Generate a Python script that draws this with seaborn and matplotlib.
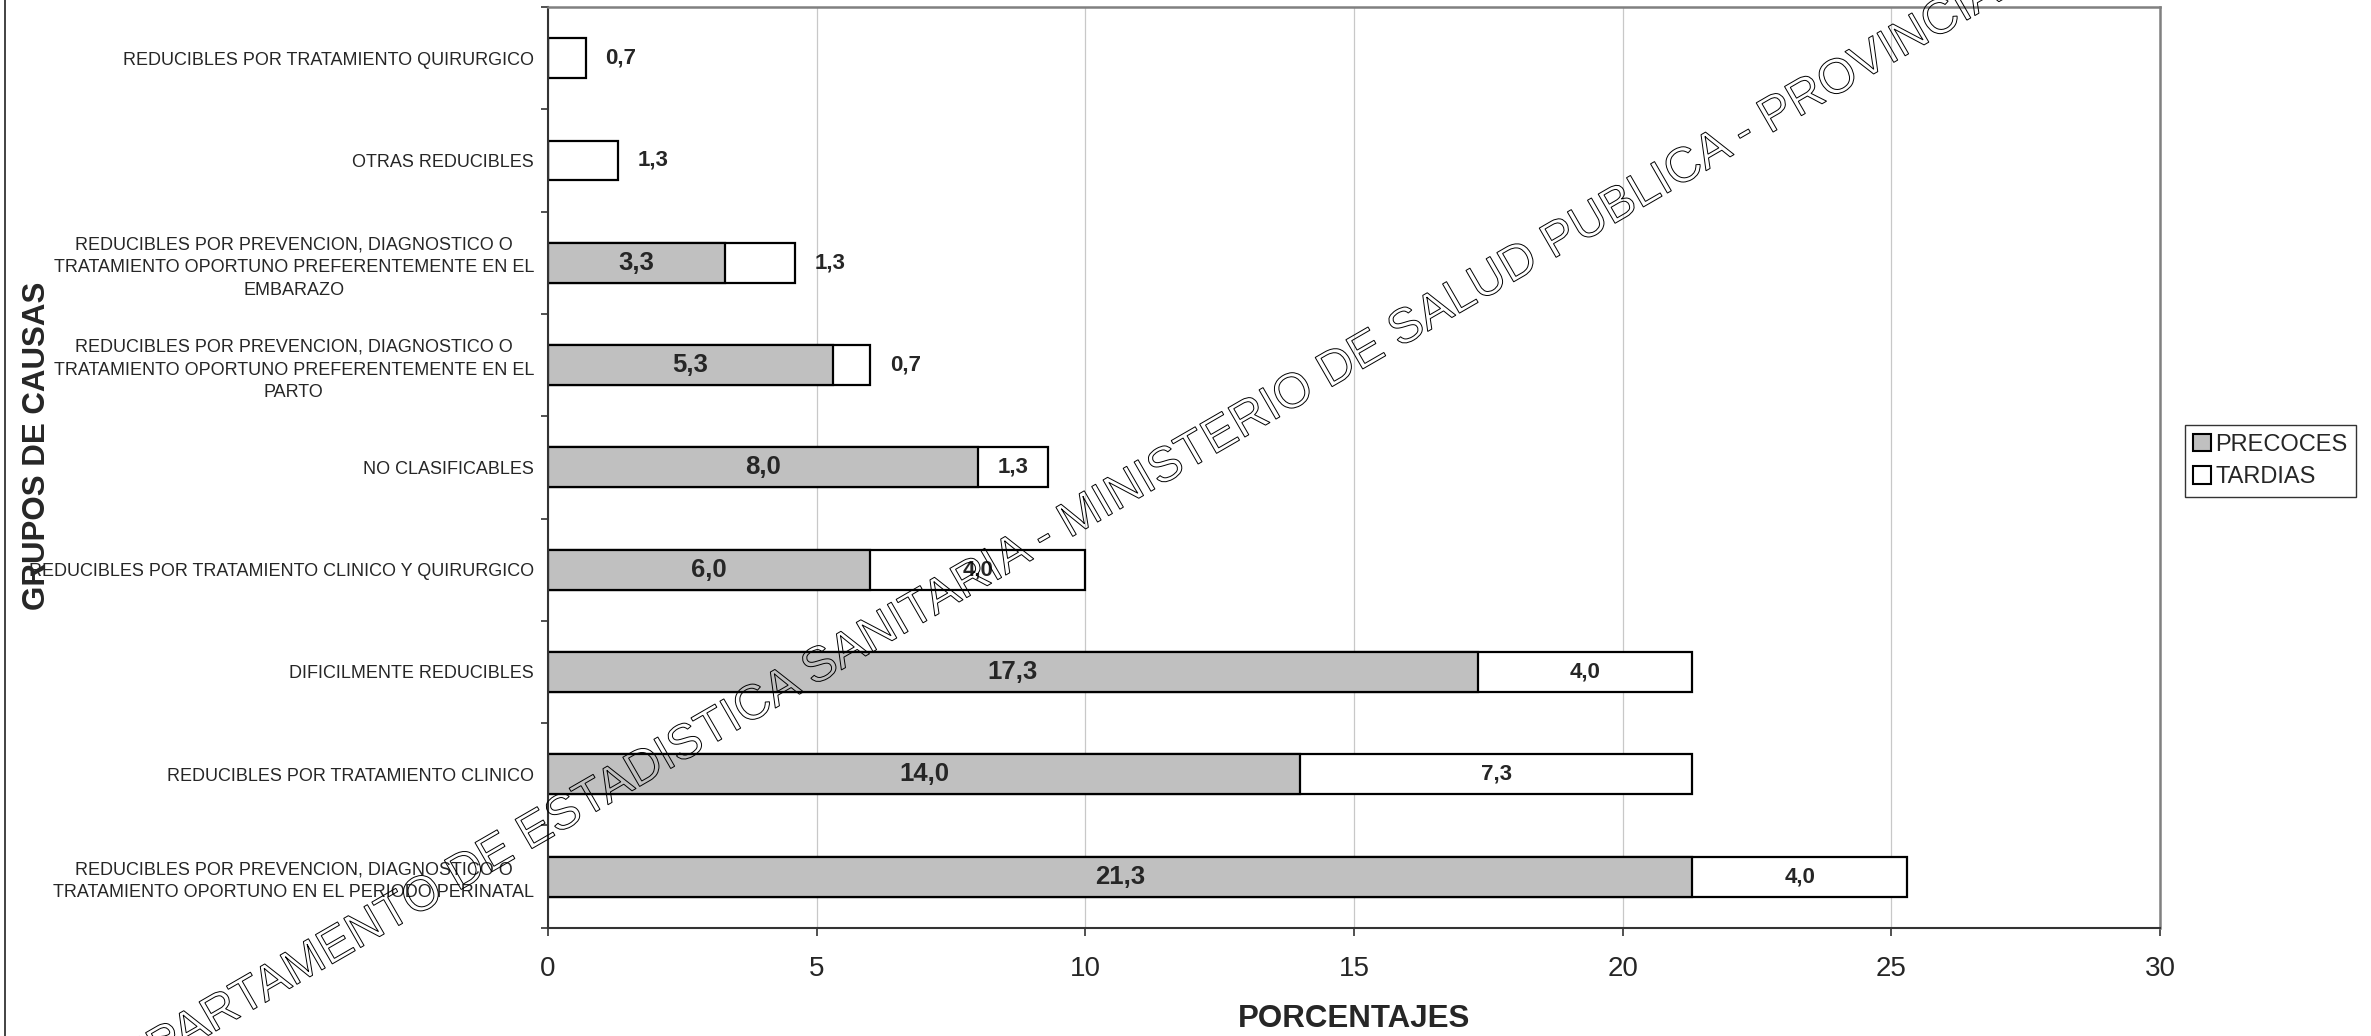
import numpy as np
import pandas as pd
import matplotlib
matplotlib.use('Agg')
import matplotlib.pyplot as plt
import seaborn as sns
from matplotlib.patches import Patch, PathPatch
from matplotlib.textpath import TextPath
from matplotlib.font_manager import FontProperties
from matplotlib.transforms import Affine2D
from matplotlib.lines import Line2D

# datos (de arriba hacia abajo)
grupos = [
    'REDUCIBLES POR TRATAMIENTO QUIRURGICO',
    'OTRAS REDUCIBLES',
    'REDUCIBLES POR PREVENCION, DIAGNOSTICO O\nTRATAMIENTO OPORTUNO PREFERENTEMENTE EN EL\nEMBARAZO',
    'REDUCIBLES POR PREVENCION, DIAGNOSTICO O\nTRATAMIENTO OPORTUNO PREFERENTEMENTE EN EL\nPARTO',
    'NO CLASIFICABLES',
    'REDUCIBLES POR TRATAMIENTO CLINICO Y QUIRURGICO',
    'DIFICILMENTE REDUCIBLES',
    'REDUCIBLES POR TRATAMIENTO CLINICO',
    'REDUCIBLES POR PREVENCION, DIAGNOSTICO O\nTRATAMIENTO OPORTUNO EN EL PERIODO PERINATAL',
]
precoces = [0, 0, 3.3, 5.3, 8.0, 6.0, 17.3, 14.0, 21.3]
tardias = [0.7, 1.3, 1.3, 0.7, 1.3, 4.0, 4.0, 7.3, 4.0]
# etiqueta de tardias fuera de la barra
tardias_afuera = [True, True, True, True, False, False, False, False, False]

marca = ('DEPARTAMENTO DE ESTADISTICA SANITARIA - MINISTERIO DE SALUD PUBLICA'
         ' - PROVINCIA DE TUCUMAN')

df = pd.DataFrame({'grupo': grupos, 'precoces': precoces, 'tardias': tardias})
df['total'] = df['precoces'] + df['tardias']

sns.set_theme(style='white')
plt.rcParams['font.family'] = ['Liberation Sans', 'DejaVu Sans']

GRIS = '#c0c0c0'
OSCURO = '#333333'

fig = plt.figure(figsize=(23.71, 10.36), dpi=100)
ax = fig.add_axes([0.2311, 0.1045, 0.6799, 0.8887])

# barras apiladas: total en blanco, precoces en gris encima
sns.barplot(data=df, x='total', y='grupo', orient='h', color='white',
            edgecolor='black', linewidth=1.6, width=0.39, saturation=1,
            errorbar=None, ax=ax)
sns.barplot(data=df, x='precoces', y='grupo', orient='h', color=GRIS,
            edgecolor='black', linewidth=1.6, width=0.39, saturation=1,
            errorbar=None, ax=ax)


def fmt(v):
    return f'{v:.1f}'.replace('.', ',')


for i, row in df.iterrows():
    if row['precoces'] > 0:
        ax.text(row['precoces'] / 2, i, fmt(row['precoces']), ha='center',
                va='center', fontsize=18.5, fontweight='bold')
    if tardias_afuera[i]:
        ax.annotate(fmt(row['tardias']), (row['total'], i), xytext=(14, 0),
                    textcoords='offset points', ha='left', va='center',
                    fontsize=16, fontweight='bold')
    else:
        ax.text(row['precoces'] + row['tardias'] / 2, i, fmt(row['tardias']),
                ha='center', va='center', fontsize=16, fontweight='bold')

# ejes
ax.set_xlim(0, 30)
ax.set_xticks(range(0, 31, 5))
ax.set_yticks(np.arange(-0.5, len(grupos), 1), minor=True)
ax.tick_params(axis='x', which='major', bottom=True, direction='out',
               length=6, width=1.2, color=OSCURO, labelsize=20, pad=14)
ax.tick_params(axis='y', which='major', left=False, length=0,
               labelsize=13, pad=10)
ax.tick_params(axis='y', which='minor', left=True, direction='out',
               length=5, width=1.2, color=OSCURO)
for lab in ax.get_yticklabels():
    lab.set_multialignment('center')
    lab.set_linespacing(1.45)

ax.xaxis.grid(True, color='#c8c8c8', lw=0.9)
ax.yaxis.grid(False)
ax.set_axisbelow(True)

for s in ['left', 'bottom']:
    ax.spines[s].set_color(OSCURO)
    ax.spines[s].set_linewidth(1.5)
for s in ['top', 'right']:
    ax.spines[s].set_color('#808080')
    ax.spines[s].set_linewidth(1.8)

ax.set_xlabel('PORCENTAJES', fontsize=22.5, fontweight='bold')
ax.xaxis.set_label_coords(0.5, -0.099)
ax.xaxis.label.set_va('center')
ax.set_ylabel('GRUPOS DE CAUSAS', fontsize=22.5, fontweight='bold')
ax.yaxis.set_label_coords(-0.317, 0.523)
ax.yaxis.label.set_va('center')

# leyenda
handles = [Patch(facecolor=GRIS, edgecolor='black', lw=1.5, label='PRECOCES'),
           Patch(facecolor='white', edgecolor='black', lw=1.5, label='TARDIAS')]
leg = fig.legend(handles=handles, loc='center', bbox_to_anchor=(0.9576, 0.555),
                 fontsize=17, frameon=True, fancybox=False, edgecolor=OSCURO,
                 framealpha=1, handlelength=0.75, handleheight=0.75,
                 handletextpad=0.2, borderpad=0.35, labelspacing=0.45,
                 borderaxespad=0)
leg.get_frame().set_linewidth(1.0)

# borde izquierdo de la hoja
fig.add_artist(Line2D([4.5 / 2371] * 2, [0, 1], transform=fig.transFigure,
                      color='#222222', lw=1.2))

# marca de agua en contorno
tp = TextPath((0, 0), marca, size=49, prop=FontProperties(family='Liberation Sans'))
tr = Affine2D().rotate_deg(30).translate(100, -62)
fig.add_artist(PathPatch(tp, transform=tr, facecolor='none',
                         edgecolor='black', lw=0.7))

fig.savefig('out.png', dpi=100)
